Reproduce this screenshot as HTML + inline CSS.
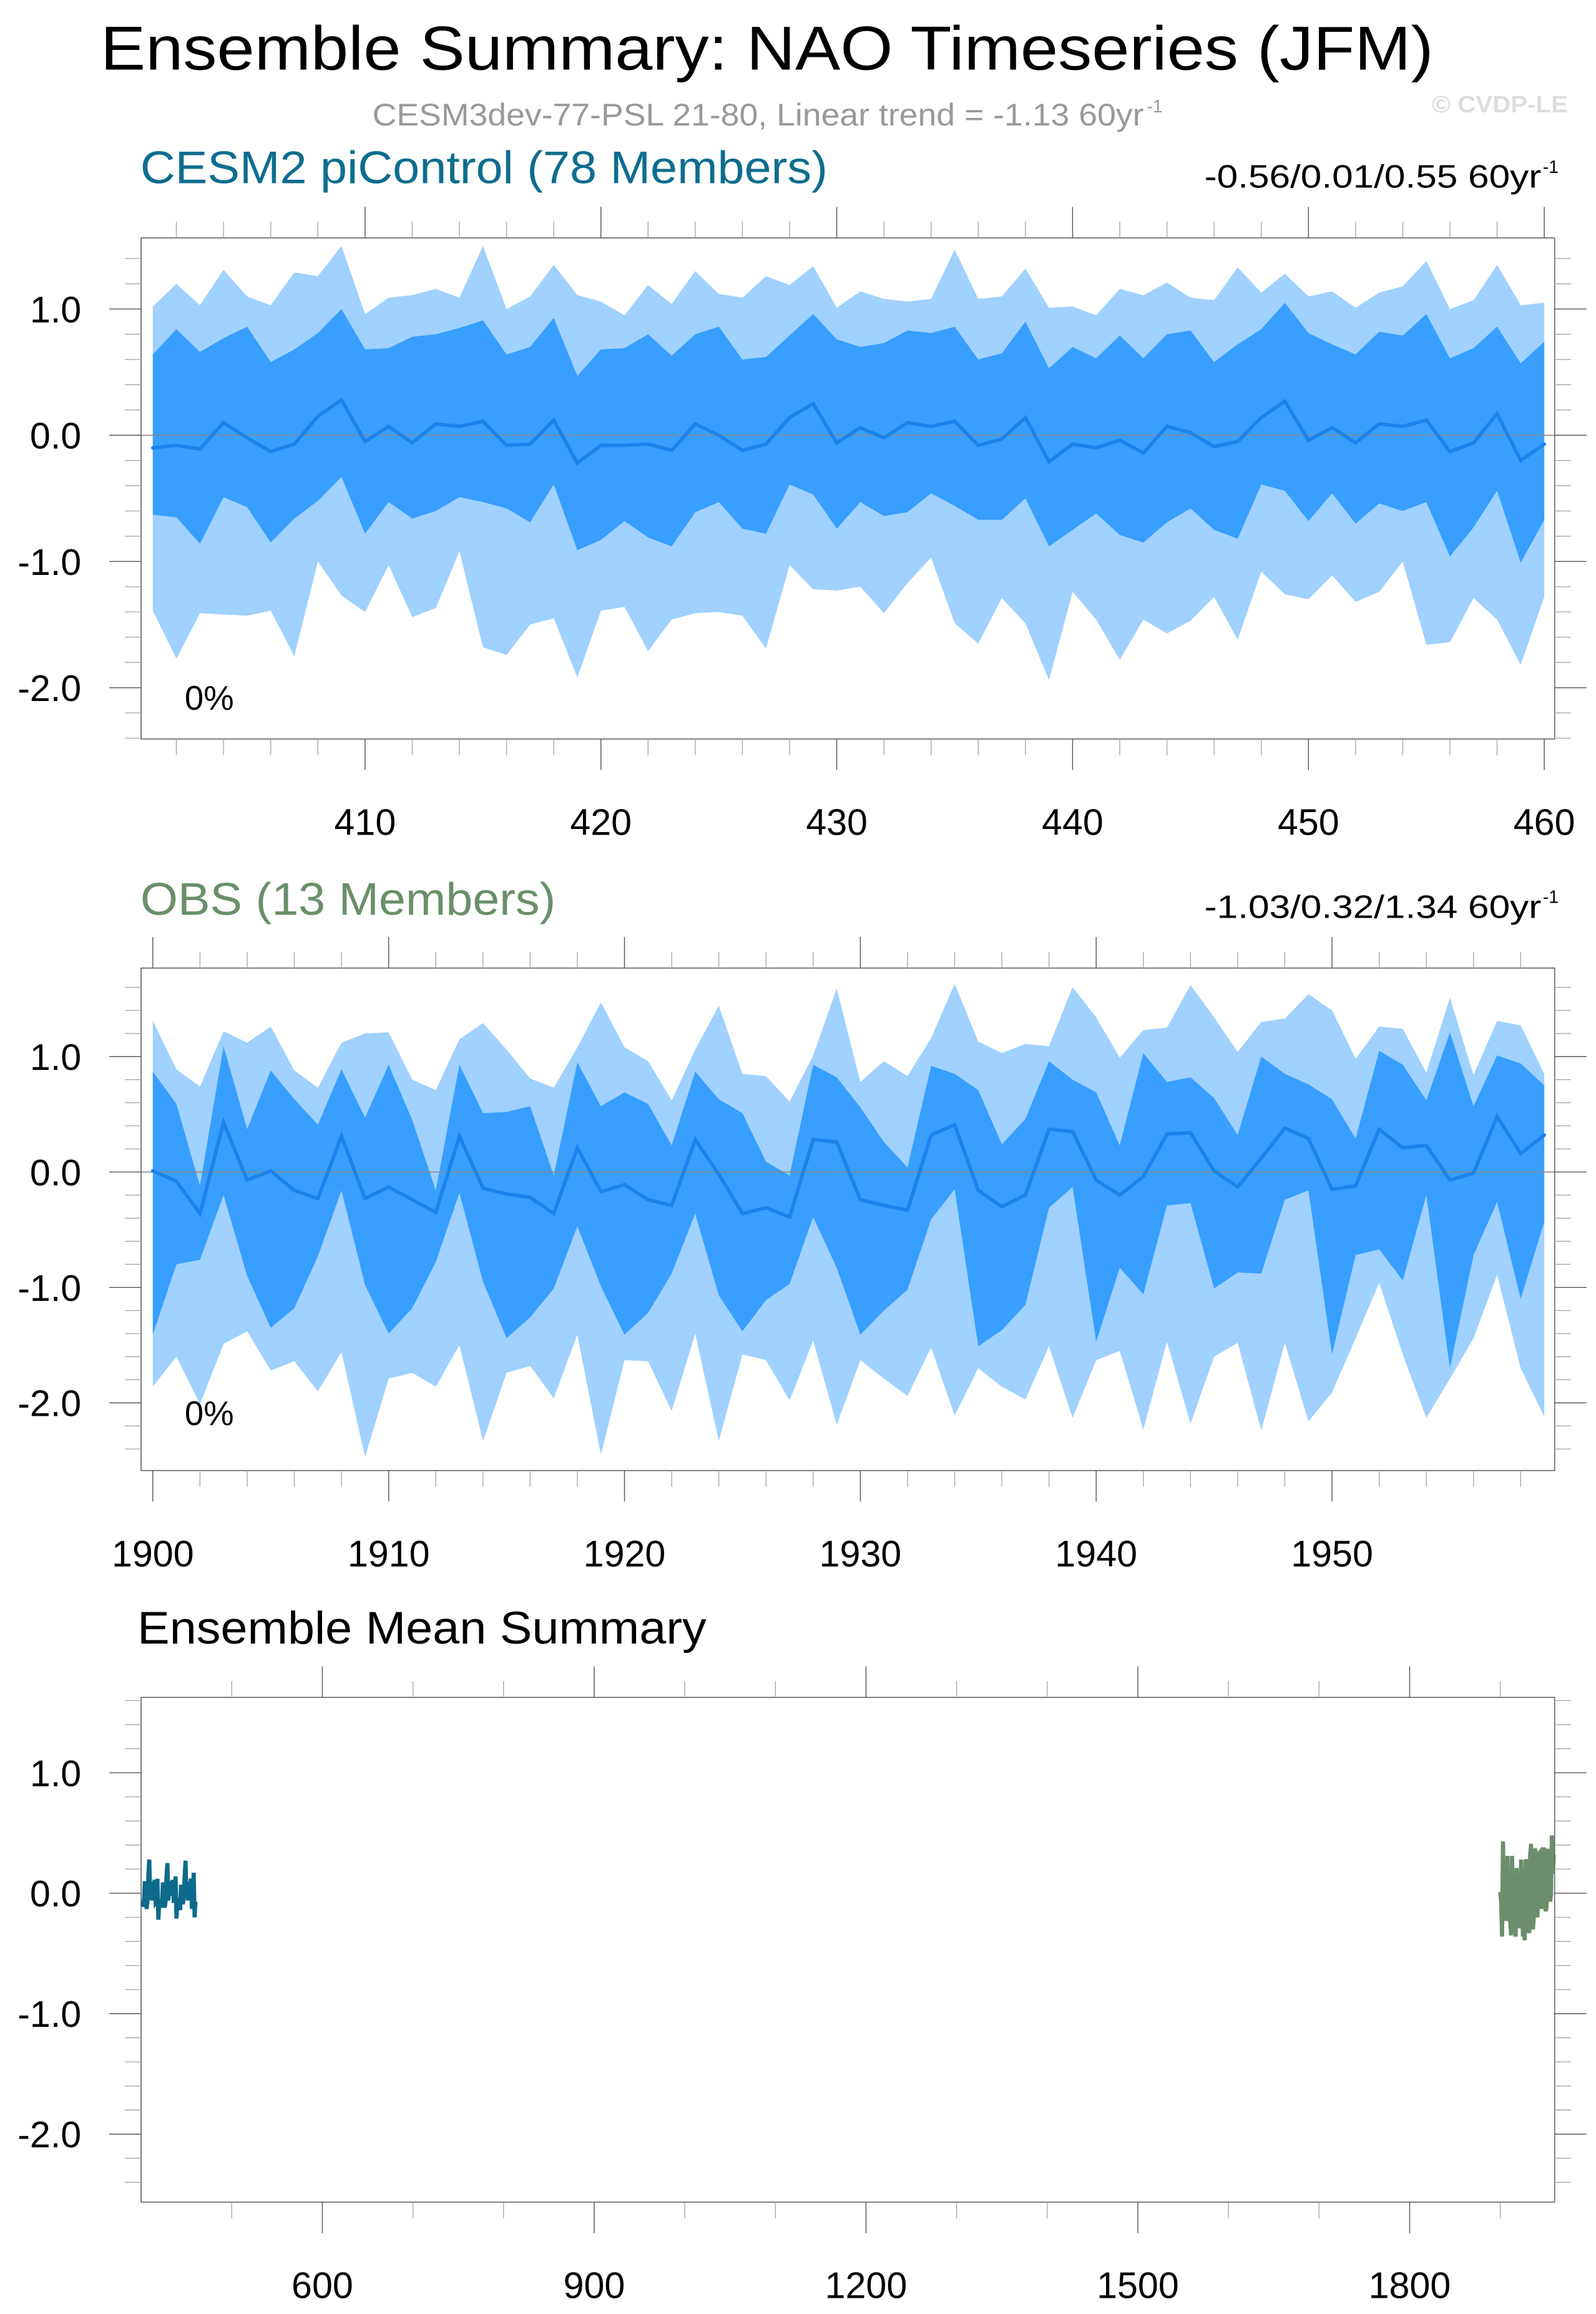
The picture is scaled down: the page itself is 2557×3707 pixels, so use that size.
<!DOCTYPE html>
<html><head><meta charset="utf-8"><title>Ensemble Summary: NAO Timeseries (JFM)</title>
<style>html,body{margin:0;padding:0;background:#fff}svg{display:block}text{font-family:"Liberation Sans",sans-serif}</style>
</head><body>
<svg id="chart" xmlns="http://www.w3.org/2000/svg" width="2557" height="3707" viewBox="0 0 1080 1565.7" preserveAspectRatio="none">
<rect x="0" y="0" width="1080" height="1565.7" fill="#fff"/>
<text x="519" y="47" font-size="42" text-anchor="middle" textLength="902" lengthAdjust="spacingAndGlyphs" fill="#000">Ensemble Summary: NAO Timeseries (JFM)</text>
<text x="252" y="85" font-size="21" fill="#999" textLength="522" lengthAdjust="spacingAndGlyphs">CESM3dev-77-PSL 21-80, Linear trend = -1.13 60yr</text>
<text x="776" y="76" font-size="12" fill="#999">-1</text>
<text x="1061" y="76" font-size="16" font-weight="bold" fill="#ddd" text-anchor="end" textLength="92" lengthAdjust="spacingAndGlyphs">© CVDP-LE</text>
<text x="95" y="124" font-size="31" fill="#0e6d8e" textLength="465" lengthAdjust="spacingAndGlyphs">CESM2 piControl (78 Members)</text>
<text x="815" y="127" font-size="22" fill="#000" textLength="228" lengthAdjust="spacingAndGlyphs">-0.56/0.01/0.55 60yr</text>
<text x="1044" y="117" font-size="12" fill="#000">-1</text>
<text x="95" y="619" font-size="31" fill="#6a8f6a" textLength="281" lengthAdjust="spacingAndGlyphs">OBS (13 Members)</text>
<text x="815" y="621" font-size="22" fill="#000" textLength="228" lengthAdjust="spacingAndGlyphs">-1.03/0.32/1.34 60yr</text>
<text x="1044" y="611" font-size="12" fill="#000">-1</text>
<text x="93" y="1112" font-size="31" fill="#000" textLength="385" lengthAdjust="spacingAndGlyphs">Ensemble Mean Summary</text>
</svg>
<script>
// ---- data ----
const cesmStartYear = 401;
const obsStartYear = 1900;
const cesmMax = [1.02,1.20,1.03,1.31,1.10,1.03,1.29,1.26,1.50,0.96,1.09,1.11,1.16,1.09,1.50,1.00,1.10,1.35,1.11,1.06,0.95,1.19,1.04,1.30,1.12,1.09,1.26,1.19,1.34,1.01,
 1.14,1.08,1.06,1.08,1.47,1.08,1.10,1.32,1.01,1.02,0.95,1.16,1.11,1.21,1.09,1.07,1.33,1.13,1.28,1.10,1.14,1.01,1.13,1.18,1.38,1.00,1.07,1.35,1.03,1.05];
const cesmP90 = [0.64,0.84,0.66,0.77,0.86,0.58,0.68,0.81,1.00,0.68,0.69,0.78,0.80,0.85,0.91,0.64,0.70,0.93,0.47,0.68,0.69,0.80,0.63,0.80,0.86,0.60,0.62,0.79,0.96,0.76,
 0.70,0.73,0.83,0.81,0.86,0.60,0.65,0.90,0.53,0.70,0.61,0.79,0.61,0.80,0.83,0.58,0.72,0.84,1.05,0.81,0.72,0.64,0.82,0.79,0.96,0.61,0.69,0.86,0.57,0.74];
const cesmMean = [-0.10,-0.08,-0.11,0.10,-0.02,-0.13,-0.07,0.15,0.28,-0.05,0.07,-0.06,0.09,0.07,0.11,-0.08,-0.07,0.12,-0.22,-0.08,-0.08,-0.07,-0.12,0.09,0.00,-0.12,-0.07,0.14,0.25,-0.06,
 0.06,-0.02,0.10,0.07,0.11,-0.08,-0.03,0.14,-0.21,-0.07,-0.10,-0.04,-0.14,0.07,0.02,-0.09,-0.05,0.14,0.27,-0.04,0.06,-0.06,0.09,0.07,0.12,-0.13,-0.06,0.17,-0.20,-0.07];
const cesmP10 = [-0.63,-0.65,-0.86,-0.49,-0.57,-0.85,-0.66,-0.52,-0.33,-0.78,-0.53,-0.66,-0.60,-0.49,-0.53,-0.58,-0.69,-0.39,-0.91,-0.83,-0.68,-0.81,-0.88,-0.61,-0.53,-0.74,-0.78,-0.39,-0.47,-0.74,
 -0.53,-0.64,-0.61,-0.46,-0.56,-0.67,-0.67,-0.50,-0.88,-0.75,-0.62,-0.79,-0.85,-0.69,-0.58,-0.75,-0.82,-0.39,-0.44,-0.68,-0.46,-0.70,-0.54,-0.60,-0.53,-0.96,-0.73,-0.44,-1.01,-0.67];
const cesmMin = [-1.39,-1.77,-1.41,-1.42,-1.43,-1.39,-1.75,-1.00,-1.27,-1.40,-1.03,-1.44,-1.37,-0.92,-1.68,-1.74,-1.50,-1.45,-1.92,-1.39,-1.36,-1.71,-1.46,-1.41,-1.40,-1.43,-1.69,-1.03,-1.22,-1.23,
 -1.20,-1.41,-1.17,-0.97,-1.49,-1.65,-1.29,-1.49,-1.94,-1.24,-1.46,-1.78,-1.46,-1.57,-1.47,-1.28,-1.62,-1.08,-1.26,-1.30,-1.11,-1.32,-1.24,-1.00,-1.66,-1.64,-1.29,-1.46,-1.82,-1.28];
const obsMax = [1.31,0.89,0.74,1.22,1.12,1.26,0.88,0.73,1.12,1.20,1.21,0.80,0.71,1.15,1.29,1.06,0.81,0.73,1.08,1.47,1.08,0.96,0.62,1.06,1.44,0.85,0.83,0.61,1.01,1.59,
 0.78,0.96,0.83,1.16,1.63,1.13,1.03,1.11,1.09,1.60,1.34,0.99,1.23,1.25,1.62,1.34,1.04,1.30,1.33,1.54,1.40,0.98,1.26,1.24,0.86,1.51,0.84,1.31,1.27,0.85];
const obsP90 = [0.87,0.59,-0.12,1.09,0.37,0.88,0.63,0.41,0.89,0.47,0.93,0.45,-0.16,0.93,0.51,0.52,0.57,-0.03,0.95,0.57,0.69,0.59,0.23,0.87,0.63,0.51,0.09,-0.03,0.93,0.82,
 0.56,0.26,0.04,0.92,0.85,0.71,0.24,0.46,0.96,0.80,0.69,0.23,1.03,0.78,0.82,0.64,0.32,1.00,0.85,0.76,0.63,0.29,1.05,0.93,0.62,1.21,0.57,1.01,0.94,0.75];
const obsMean = [0.01,-0.08,-0.36,0.43,-0.07,0.01,-0.16,-0.23,0.31,-0.23,-0.13,-0.24,-0.35,0.31,-0.14,-0.19,-0.22,-0.36,0.21,-0.17,-0.11,-0.24,-0.29,0.28,-0.02,-0.36,-0.31,-0.39,0.28,0.26,
 -0.24,-0.29,-0.33,0.32,0.41,-0.16,-0.30,-0.20,0.37,0.35,-0.07,-0.20,-0.04,0.33,0.34,0.01,-0.13,0.12,0.38,0.29,-0.15,-0.12,0.37,0.21,0.23,-0.07,-0.01,0.48,0.16,0.32];
const obsP10 = [-1.41,-0.80,-0.76,-0.20,-0.90,-1.35,-1.18,-0.73,-0.16,-0.98,-1.40,-1.18,-0.78,-0.18,-0.95,-1.44,-1.26,-1.01,-0.47,-0.99,-1.41,-1.22,-0.88,-0.36,-1.07,-1.38,-1.11,-0.97,-0.39,-0.83,
 -1.41,-1.20,-1.02,-0.41,-0.15,-1.51,-1.37,-1.15,-0.31,-0.13,-1.47,-0.83,-1.06,-0.29,-0.27,-1.01,-0.87,-0.88,-0.24,-0.16,-1.58,-0.72,-0.67,-0.94,-0.20,-1.70,-0.72,-0.26,-1.10,-0.43];
const obsMin = [-1.86,-1.60,-2.01,-1.49,-1.38,-1.72,-1.64,-1.90,-1.56,-2.47,-1.79,-1.74,-1.86,-1.50,-2.33,-1.74,-1.68,-1.96,-1.41,-2.45,-1.63,-1.64,-2.07,-1.40,-2.33,-1.58,-1.63,-1.98,-1.46,-2.19,
 -1.63,-1.79,-1.94,-1.52,-2.11,-1.70,-1.86,-1.97,-1.51,-2.13,-1.63,-1.55,-2.23,-1.47,-2.18,-1.60,-1.48,-2.24,-1.48,-2.16,-1.91,-1.44,-0.96,-1.58,-2.13,-1.79,-1.44,-0.89,-1.70,-2.12];
const yTickLabels = ["1.0","0.0","-1.0","-2.0"];
const yTickValues = [1,0,-1,-2];
const cesmXTicks = [410,420,430,440,450,460];
const obsXTicks = [1900,1910,1920,1930,1940,1950];
const meanXTicks = [600,900,1200,1500,1800];

const NS = 'http://www.w3.org/2000/svg';
const svg = document.getElementById('chart');
function mk(tag, attrs, parent) {
  const e = document.createElementNS(NS, tag);
  for (const k in attrs) e.setAttribute(k, attrs[k]);
  (parent || svg).appendChild(e);
  return e;
}
function linScale(d0, d1, r0, r1) { return v => r0 + (v - d0) * (r1 - r0) / (d1 - d0); }

function drawFrame(g, P, xMajor, xMinorStart, xMinorStep, xMinorEnd, showLabels, prefix) {
  const fr = mk('rect', {x:P.left, y:P.top, width:P.right-P.left, height:P.bottom-P.top, fill:'none', stroke:'#666', 'stroke-width':0.7}, g);
  
  
  for (let v = xMinorStart; v <= xMinorEnd + 1e-9; v += xMinorStep) {
    if (xMajor.includes(v)) continue;
    const x = P.x(v);
    if (x < P.left - 0.5 || x > P.right + 0.5) continue;
    const t1 = mk('line', {x1:x, x2:x, y1:P.top, y2:P.top-11, stroke:'#aaa', 'stroke-width':0.6}, g);
    
    
    const t2 = mk('line', {x1:x, x2:x, y1:P.bottom, y2:P.bottom+11, stroke:'#aaa', 'stroke-width':0.6}, g);
    
    
  }
  xMajor.forEach(v => {
    const x = P.x(v);
    const t1 = mk('line', {x1:x, x2:x, y1:P.top, y2:P.top-21, stroke:'#555', 'stroke-width':0.6}, g);
    
    
    const t2 = mk('line', {x1:x, x2:x, y1:P.bottom, y2:P.bottom+21, stroke:'#555', 'stroke-width':0.6}, g);
    
    
    const lb = mk('text', {x:x, y:P.bottom+65, 'font-size':25, 'text-anchor':'middle', fill:'#000'}, g);
    lb.textContent = String(v);
    
    
  });
  for (let k = -30; k <= 20; k++) {
    const v = k / 5;
    const y = P.y(v);
    if (y < P.top + 0.5 || y > P.bottom - 0.5) continue;
    const major = (k % 5 === 0);
    const len = major ? 21.5 : 11;
    const col = major ? '#555' : '#aaa';
    const a = mk('line', {x1:P.left, x2:P.left-len, y1:y, y2:y, stroke:col, 'stroke-width':0.6}, g);
    
    
    const b = mk('line', {x1:P.right, x2:P.right+len, y1:y, y2:y, stroke:col, 'stroke-width':0.6}, g);
    
    
  }
  yTickValues.forEach((v, i) => {
    const lb = mk('text', {x:55, y:P.y(v)+9, 'font-size':25, 'text-anchor':'end', fill:'#000'}, g);
    lb.textContent = yTickLabels[i];
    
    
  });
}

function ptsStr(P, years, vals) { return years.map((yr, i) => P.x(yr).toFixed(2) + ',' + P.y(vals[i]).toFixed(2)); }

function drawEnsemblePanel(prefix, P, startYear, mx, p90, mean, p10, mn, xMajor, minorStart, minorEnd) {
  const g = mk('g', {});
  
  
  const years = mx.map((_, i) => startYear + i);
  const light = ptsStr(P, years, mx).concat(ptsStr(P, years, mn).reverse());
  const lp = mk('polygon', {points: light.join(' '), fill:'#a0d1ff'}, g);
  
  
  const dark = ptsStr(P, years, p90).concat(ptsStr(P, years, p10).reverse());
  const dp = mk('polygon', {points: dark.join(' '), fill:'#389fff'}, g);
  
  
  const zl = mk('line', {x1:P.left, x2:P.right, y1:P.y(0), y2:P.y(0), stroke:'#888', 'stroke-width':0.7}, g);
  
  
  const ml = mk('polyline', {points: ptsStr(P, years, mean).join(' '), fill:'none', stroke:'#1a84ec', 'stroke-width':2.4, 'stroke-linejoin':'miter', 'stroke-linecap':'round'}, g);
  
  
  drawFrame(g, P, xMajor, minorStart, 2, minorEnd, true, prefix);
  const pc = mk('text', {x:125, y:P.y(-2)+15, 'font-size':23, fill:'#000'}, g);
  pc.textContent = '0%';
  
  
}

const P1 = {left:95.5, right:1052, top:161, bottom:500};
P1.x = linScale(401, 460, 103.4, 1045);
P1.y = linScale(0, 1, 294.5, 209.1);
drawEnsemblePanel('cesm2', P1, cesmStartYear, cesmMax, cesmP90, cesmMean, cesmP10, cesmMin, cesmXTicks, 402, 460);

const P2 = {left:95.5, right:1052, top:655, bottom:995};
P2.x = linScale(1900, 1959, 103.4, 1045);
P2.y = linScale(0, 1, 793, 714.9);
drawEnsemblePanel('obs', P2, obsStartYear, obsMax, obsP90, obsMean, obsP10, obsMin, obsXTicks, 1900, 1958);

const P3 = {left:95.5, right:1052, top:1148.5, bottom:1490};
P3.x = linScale(400, 1960, 95.5, 1052);
P3.y = linScale(0, 1, 1281, 1199.5);
const g3 = mk('g', {});


const cesmYears = cesmMean.map((_, i) => cesmStartYear + i);
const obsYears = obsMean.map((_, i) => obsStartYear + i);
const l1 = mk('polyline', {points: ptsStr(P3, cesmYears, cesmMean).join(' '), fill:'none', stroke:'#0e6a8c', 'stroke-width':2.8}, g3);


const l2 = mk('polyline', {points: ptsStr(P3, obsYears, obsMean).join(' '), fill:'none', stroke:'#6b8e6b', 'stroke-width':2.8}, g3);


drawFrame(g3, P3, meanXTicks, 500, 100, 1900, true, 'ensemble-mean');
</script>
</body></html>
